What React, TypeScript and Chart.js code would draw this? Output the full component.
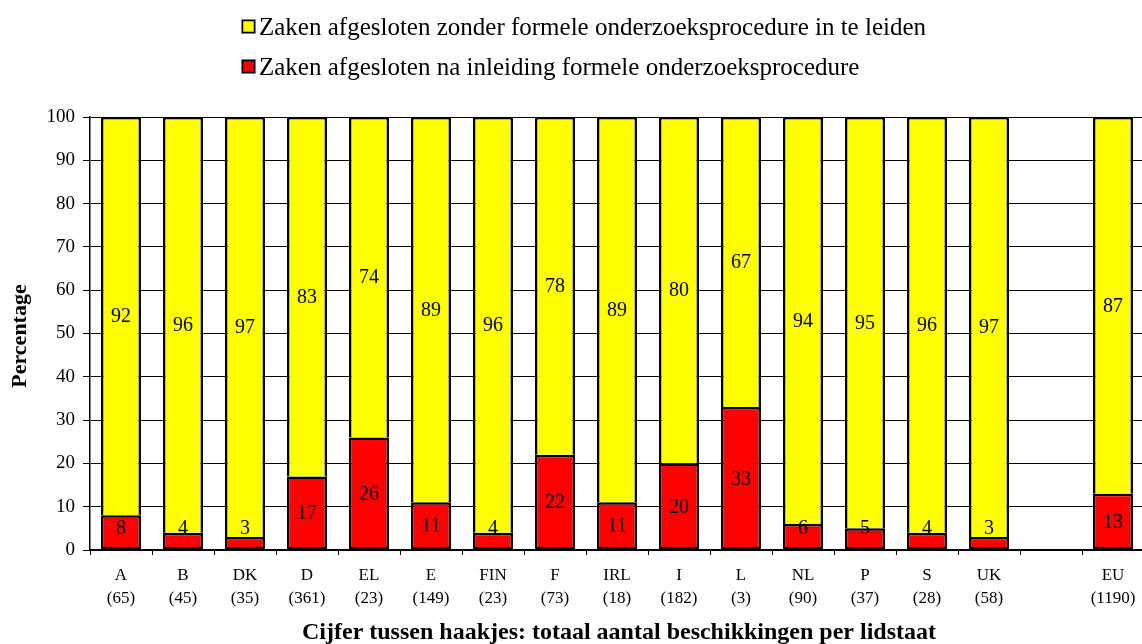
import React, { useEffect, useRef } from "react";
import { Chart, registerables } from "chart.js";

Chart.register(...registerables);

const countries = ["A", "B", "DK", "D", "EL", "E", "FIN", "F", "IRL", "I", "L", "NL", "P", "S", "UK", "", "EU"];
const counts = ["(65)", "(45)", "(35)", "(361)", "(23)", "(149)", "(23)", "(73)", "(18)", "(182)", "(3)", "(90)", "(37)", "(28)", "(58)", "", "(1190)"];
const redValues = [8, 4, 3, 17, 26, 11, 4, 22, 11, 20, 33, 6, 5, 4, 3, null, 13];
const yellowValues = [92, 96, 97, 83, 74, 89, 96, 78, 89, 80, 67, 94, 95, 96, 97, null, 87];
const yTicks = [0, 10, 20, 30, 40, 50, 60, 70, 80, 90, 100];
const legendLabels = [
  "Zaken afgesloten zonder formele onderzoeksprocedure in te leiden",
  "Zaken afgesloten na inleiding formele onderzoeksprocedure",
];
const xTitle = "Cijfer tussen haakjes: totaal aantal beschikkingen per lidstaat";
const yTitle = "Percentage";

const FONT = "'Liberation Serif', 'Times New Roman', serif";

export default function App() {
  const ref = useRef<HTMLCanvasElement | null>(null);
  useEffect(() => {
    if (!ref.current) return;
    const labels = countries.map((c, i) => [c, counts[i]]);
    const extras = {
      id: "extras",
      afterDatasetsDraw(chart: any) {
        const ctx = chart.ctx;
        ctx.save();
        ctx.fillStyle = "#000";
        ctx.font = `20px ${FONT}`;
        ctx.textAlign = "center";
        ctx.textBaseline = "middle";
        chart.data.datasets.forEach((ds: any, di: number) => {
          const meta = chart.getDatasetMeta(di);
          meta.data.forEach((el: any, i: number) => {
            const v = ds.data[i];
            if (v == null) return;
            const props = el.getProps(["x", "y", "base"], true);
            let cy = (props.y + props.base) / 2;
            if (di === 0) cy = Math.min(cy, props.base - 22);
            ctx.fillText(String(v), props.x, cy + 1);
          });
        });
        ctx.restore();
      },
      afterDraw(chart: any) {
        const ctx = chart.ctx;
        ctx.save();
        // legend
        const colors = ["#FFFF00", "#FF0000"];
        const baselines = [35, 75];
        ctx.font = `25px ${FONT}`;
        ctx.textBaseline = "alphabetic";
        ctx.textAlign = "left";
        legendLabels.forEach((t, i) => {
          const by = baselines[i] - 16;
          ctx.fillStyle = "#aaa";
          ctx.fillRect(241, by, 15, 15);
          ctx.fillStyle = colors[i];
          ctx.fillRect(242.5, by + 1.5, 12, 12);
          ctx.strokeStyle = "#000";
          ctx.lineWidth = 1.5;
          ctx.strokeRect(242.5, by + 1.5, 12, 12);
          ctx.fillStyle = "#000";
          ctx.fillText(t, 259, baselines[i]);
        });
        // x title
        ctx.font = `bold 24px ${FONT}`;
        ctx.textAlign = "center";
        ctx.fillText(xTitle, 619, 639);
        // y title
        ctx.translate(26, 336);
        ctx.rotate(-Math.PI / 2);
        ctx.font = `bold 22px ${FONT}`;
        ctx.fillText(yTitle, 0, 0);
        ctx.restore();
      },
    };
    const chart = new Chart(ref.current, {
      type: "bar",
      data: {
        labels,
        datasets: [
          {
            label: legendLabels[1],
            data: redValues,
            backgroundColor: "#FF0000",
            borderColor: "#000",
            borderWidth: 2.5,
            borderSkipped: false,
            barPercentage: 0.645,
            categoryPercentage: 1,
          },
          {
            label: legendLabels[0],
            data: yellowValues,
            backgroundColor: "#FFFF00",
            borderColor: "#000",
            borderWidth: 2.5,
            borderSkipped: "bottom",
            barPercentage: 0.645,
            categoryPercentage: 1,
          },
        ],
      },
      options: {
        animation: false,
        responsive: false,
        maintainAspectRatio: false,
        layout: { padding: { top: 117, right: 2, left: 0, bottom: 0 } },
        plugins: { legend: { display: false }, tooltip: { enabled: false }, title: { display: false } },
        scales: {
          x: {
            stacked: true,
            offset: true,
            grid: { display: true, drawOnChartArea: false, drawTicks: true, tickLength: 5, color: "#000", offset: true },
            border: { display: true, color: "#000", width: 2 },
            ticks: { color: "#000", font: { family: FONT, size: 17, lineHeight: 1.35 }, padding: 9, maxRotation: 0, autoSkip: false },
            afterFit: (s: any) => { s.height = 94; },
          },
          y: {
            stacked: true,
            min: 0,
            max: 100,
            afterBuildTicks: (s: any) => { s.ticks = yTicks.map((v) => ({ value: v })); },
            grid: { color: "#000", lineWidth: 1, tickLength: 7 },
            border: { display: true, color: "#000", width: 1.5 },
            ticks: { color: "#000", font: { family: FONT, size: 19 }, padding: 8 },
            afterFit: (s: any) => { s.width = 90; },
          },
        },
      },
      plugins: [extras],
    });
    return () => chart.destroy();
  }, []);
  return (
    <div style={{ position: "fixed", left: 0, top: 0, width: 1142, height: 644, overflow: "hidden", background: "#fff" }}>
      <canvas ref={ref} width={1146} height={644} style={{ display: "block", width: 1146, height: 644 }} />
    </div>
  );
}
